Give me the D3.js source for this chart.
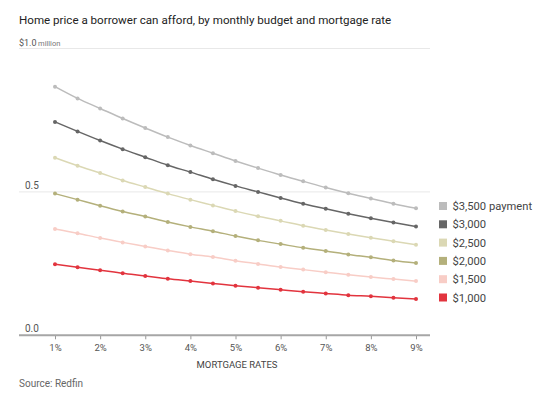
<!DOCTYPE html>
<html>
<head>
<meta charset="utf-8">
<script src="https://cdn.jsdelivr.net/npm/d3@7"></script>
<style>
  body { margin: 0; background: #fff; }
  text { font-family: Roboto, "Noto Sans", sans-serif; }
</style>
</head>
<body>
<div id="chart"></div>
<script>
// mortgage rates, in percent (0.5 steps)
const rates = [1, 1.5, 2, 2.5, 3, 3.5, 4, 4.5, 5, 5.5, 6, 6.5, 7, 7.5, 8, 8.5, 9];
const xTicks = [1, 2, 3, 4, 5, 6, 7, 8, 9];
const yTicks = [0, 0.5, 1.0];

// home price, $ million
const pay3500 = [0.867, 0.826, 0.791, 0.756, 0.723, 0.691, 0.662, 0.635, 0.608, 0.583, 0.559, 0.537, 0.515, 0.495, 0.477, 0.459, 0.443];
const pay3000 = [0.744, 0.711, 0.679, 0.649, 0.621, 0.593, 0.569, 0.544, 0.521, 0.500, 0.479, 0.459, 0.441, 0.424, 0.408, 0.393, 0.379];
const pay2500 = [0.619, 0.591, 0.566, 0.540, 0.517, 0.494, 0.473, 0.453, 0.433, 0.415, 0.399, 0.382, 0.367, 0.353, 0.340, 0.328, 0.316];
const pay2000 = [0.494, 0.473, 0.452, 0.432, 0.414, 0.395, 0.378, 0.363, 0.346, 0.331, 0.318, 0.305, 0.294, 0.282, 0.272, 0.261, 0.252];
const pay1500 = [0.371, 0.356, 0.339, 0.324, 0.310, 0.296, 0.283, 0.273, 0.260, 0.249, 0.238, 0.229, 0.220, 0.211, 0.203, 0.196, 0.189];
const pay1000 = [0.248, 0.237, 0.227, 0.216, 0.207, 0.197, 0.189, 0.181, 0.173, 0.166, 0.159, 0.152, 0.146, 0.140, 0.136, 0.131, 0.127];

const seriesNames = ["$3,500 payment", "$3,000", "$2,500", "$2,000", "$1,500", "$1,000"];
const seriesColors = ["#bcbcbc", "#666666", "#dbd8b4", "#b4b07b", "#f8cdc6", "#e2343e"];
const seriesValues = [pay3500, pay3000, pay2500, pay2000, pay1500, pay1000];

const width = 546, height = 397;
const svg = d3.select("#chart").append("svg")
  .attr("width", width)
  .attr("height", height);

const x = d3.scaleLinear().domain([1, 9]).range([55, 416]);
const y = d3.scaleLinear().domain([0, 1]).range([335.3, 48.5]);

// title
svg.append("text")
  .attr("x", 19).attr("y", 24)
  .attr("font-size", 11.6)
  .attr("fill", "#222")
  .text("Home price a borrower can afford, by monthly budget and mortgage rate");

// gridlines
svg.selectAll(".grid")
  .data(yTicks.filter(d => d > 0))
  .enter().append("line")
  .attr("x1", 19).attr("x2", 430)
  .attr("y1", d => y(d)).attr("y2", d => y(d))
  .attr("stroke", "#e8e8e8")
  .attr("stroke-width", 1);

// y labels
const ylab = svg.selectAll(".ylab")
  .data(yTicks)
  .enter().append("text")
  .attr("x", d => d == 1 ? 19 : 25)
  .attr("y", d => y(d) - 3)
  .attr("font-size", d => d == 1 ? 9 : 10)
  .attr("fill", "#555");
ylab.append("tspan").text(d => d == 1 ? "$1.0" : d3.format(".1f")(d));
ylab.filter(d => d == 1).append("tspan")
  .attr("font-size", 7.5).attr("dx", 1.5).attr("fill", "#777")
  .text("million");

// x axis
const xAxis = d3.axisBottom(x)
  .tickValues(xTicks)
  .tickSize(4)
  .tickFormat(d => d + "%");
const gx = svg.append("g")
  .attr("transform", "translate(0," + y(0) + ")")
  .call(xAxis);
gx.select(".domain").remove();
gx.selectAll(".tick line").attr("stroke", "#999");
gx.selectAll(".tick text")
  .attr("font-family", "Roboto, sans-serif")
  .attr("font-size", 9.5)
  .attr("fill", "#555")
  .attr("y", 9);
svg.append("line")
  .attr("x1", 19).attr("x2", 430)
  .attr("y1", y(0)).attr("y2", y(0))
  .attr("stroke", "#a6a6a6")
  .attr("stroke-width", 2);

svg.append("text")
  .attr("x", 237).attr("y", 368)
  .attr("text-anchor", "middle")
  .attr("font-size", 9.5)
  .attr("fill", "#444")
  .text("MORTGAGE RATES");

// lines + dots
const line = d3.line()
  .x((d, i) => x(rates[i]))
  .y(d => y(d))
  .curve(d3.curveMonotoneX);

seriesValues.forEach(function(vals, s) {
  svg.append("path")
    .datum(vals)
    .attr("d", line)
    .attr("fill", "none")
    .attr("stroke", seriesColors[s])
    .attr("stroke-width", 1.5);
  svg.selectAll(".dot" + s)
    .data(vals)
    .enter().append("circle")
    .attr("cx", (d, i) => x(rates[i]))
    .attr("cy", d => y(d))
    .attr("r", 2)
    .attr("fill", seriesColors[s]);
});

// legend
const leg = svg.selectAll(".leg")
  .data(seriesNames)
  .enter().append("g")
  .attr("transform", (d, i) => "translate(439," + (206 + i * 18.3) + ")");
leg.append("rect")
  .attr("x", 0).attr("y", -4)
  .attr("width", 8).attr("height", 8)
  .attr("fill", (d, i) => seriesColors[i]);
leg.append("text")
  .attr("x", 13.5).attr("y", 4)
  .attr("font-size", 11.2)
  .attr("fill", "#444")
  .text(d => d);

// source
svg.append("text")
  .attr("x", 19).attr("y", 387)
  .attr("font-size", 10)
  .attr("fill", "#666")
  .text("Source: Redfin");
</script>
</body>
</html>
